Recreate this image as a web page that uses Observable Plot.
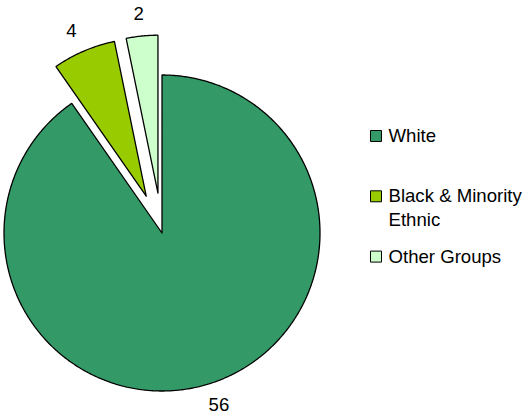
<!DOCTYPE html>
<html><head><meta charset="utf-8">
<script src="https://cdn.jsdelivr.net/npm/d3@7"></script>
<script src="https://cdn.jsdelivr.net/npm/@observablehq/plot@0.6"></script>
<style>html,body{margin:0;padding:0;background:#fff} svg{display:block}</style>
</head><body><div id="chart"></div>
<script>
// ---- data ----
const categories = ["White", "Black & Minority Ethnic", "Other Groups"];
const values = [56, 4, 2];
const legendLabels = ["White", "Black & Minority\nEthnic", "Other Groups"];
const colors = ["#339966", "#99CC00", "#CCFFCC"];
const exploded = [false, true, true];

// ---- layout ----
const W = 523, H = 416;
const cx = 161.5, cy = 232.5, R = 158;
const explodePx = 40;
const labelOffset = 22;
const fontSize = 18.6;
const legendX = 375.5, legendTextX = 388, legendTop = 135.5, legendStep = 60.3, lineH = 23.5;

const rows = categories.map((name, i) => ({name, value: values[i], exploded: exploded[i]}));
const arcs = d3.pie().sort(null).value(d => d.value)(rows);

const polys = [];
const labels = [];
arcs.forEach(a => {
  const mid = (a.startAngle + a.endAngle) / 2;
  const off = a.data.exploded ? explodePx : 0;
  const ox = cx + off * Math.sin(mid), oy = cy - off * Math.cos(mid);
  const pts = [{name: a.data.name, x: ox, y: oy}];
  const n = Math.max(2, Math.ceil((a.endAngle - a.startAngle) / (Math.PI / 360)));
  for (let k = 0; k <= n; k++) {
    const t = a.startAngle + (a.endAngle - a.startAngle) * k / n;
    pts.push({name: a.data.name, x: ox + R * Math.sin(t), y: oy - R * Math.cos(t)});
  }
  pts.push({name: a.data.name, x: ox, y: oy});
  polys.push(...pts);
  // label just outside the arc, shifted by half its box along the ray direction
  const lx = ox + (R + labelOffset) * Math.sin(mid) + 10 * Math.sin(mid);
  const ly = oy - (R + labelOffset) * Math.cos(mid);
  labels.push({text: String(a.data.value), x: lx, y: ly});
});

const legendSwatches = categories.map((name, i) => ({name, x: legendX, y: legendTop + i * legendStep}));
const legendText = [];
legendLabels.forEach((lab, i) => {
  lab.split("\n").forEach((line, j) => {
    legendText.push({text: line, x: legendTextX, y: legendTop + i * legendStep + j * lineH});
  });
});

const chart = Plot.plot({
  width: W, height: H,
  marginTop: 0, marginRight: 0, marginBottom: 0, marginLeft: 0,
  x: {domain: [0, W], range: [0, W], axis: null},
  y: {domain: [0, H], range: [0, H], axis: null},
  color: {domain: categories, range: colors},
  style: {fontFamily: "'Liberation Sans', Arial, sans-serif", background: "#fff"},
  marks: [
    Plot.line(polys, {x: "x", y: "y", z: "name", fill: "name", stroke: "#000", strokeWidth: 1.3, strokeLinejoin: "miter", curve: "linear"}),
    Plot.text(labels, {x: "x", y: "y", text: "text", fontSize, fill: "#000"}),
    Plot.dot(legendSwatches, {x: "x", y: "y", fill: "name", symbol: "square", r: 6.2, stroke: "#000", strokeWidth: 1}),
    Plot.text(legendText, {x: "x", y: "y", text: "text", textAnchor: "start", fontSize, fill: "#000"})
  ]
});
document.getElementById("chart").appendChild(chart);
</script>
</body></html>
